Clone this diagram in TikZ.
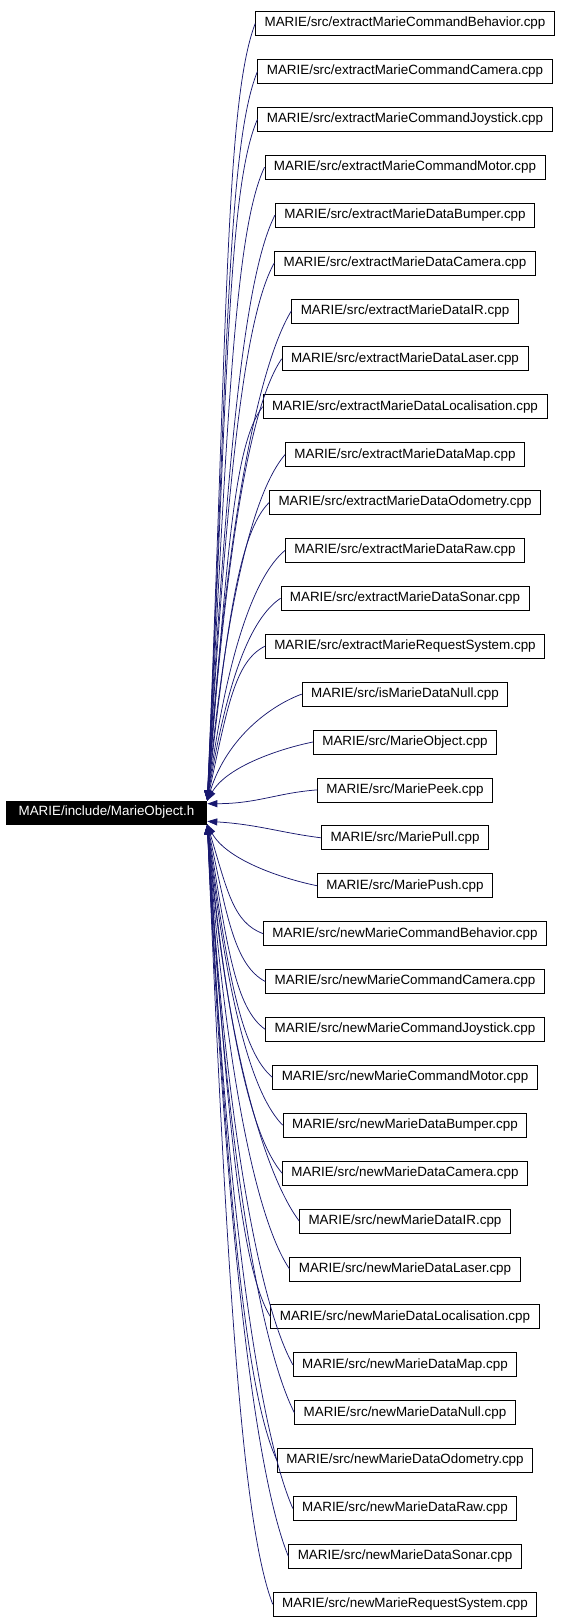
\documentclass[tikz,border=0pt]{standalone}
\usepackage{fontspec}
\setmainfont{Liberation Sans}
\usetikzlibrary{arrows.meta}

\definecolor{edgeblue}{HTML}{191970}

\begin{document}
\begin{tikzpicture}[x=1pt,y=1pt,
		file/.style={draw,line width=0.8pt,font=\fontsize{13.4}{15}\selectfont,minimum height=24pt,inner xsep=9pt,inner ysep=0pt},
		header/.style={file,fill=black,text=white,draw=black,minimum height=23pt,inner xsep=12.5pt},
		dep/.style={draw=edgeblue,line width=0.75pt,<-,>={Triangle[length=10pt,width=7pt]}}
		]
		\useasboundingbox (0,0) rectangle (564,-1623);
		
		% Header file
		\node[header] (main) at (106.5,-812.5) {MARIE/include/MarieObject.h};
		
		% extract* sources
		\node[file] (xCmdBehavior) at (405,-23.5) {MARIE/src/extractMarieCommandBehavior.cpp};
		\node[file] (xCmdCamera) at (405,-71.4) {MARIE/src/extractMarieCommandCamera.cpp};
		\node[file] (xCmdJoystick) at (405,-119.3) {MARIE/src/extractMarieCommandJoystick.cpp};
		\node[file] (xCmdMotor) at (405,-167.2) {MARIE/src/extractMarieCommandMotor.cpp};
		\node[file] (xBumper) at (405,-215.1) {MARIE/src/extractMarieDataBumper.cpp};
		\node[file] (xCamera) at (405,-263.0) {MARIE/src/extractMarieDataCamera.cpp};
		\node[file] (xIR) at (405,-310.9) {MARIE/src/extractMarieDataIR.cpp};
		\node[file] (xLaser) at (405,-358.8) {MARIE/src/extractMarieDataLaser.cpp};
		\node[file] (xLocal) at (405,-406.7) {MARIE/src/extractMarieDataLocalisation.cpp};
		\node[file] (xMap) at (405,-454.6) {MARIE/src/extractMarieDataMap.cpp};
		\node[file] (xOdometry) at (405,-502.5) {MARIE/src/extractMarieDataOdometry.cpp};
		\node[file] (xRaw) at (405,-550.4) {MARIE/src/extractMarieDataRaw.cpp};
		\node[file] (xSonar) at (405,-598.3) {MARIE/src/extractMarieDataSonar.cpp};
		\node[file] (xRequest) at (405,-646.2) {MARIE/src/extractMarieRequestSystem.cpp};
		
		% misc sources
		\node[file] (isNull) at (405,-694.1) {MARIE/src/isMarieDataNull.cpp};
		\node[file] (objCpp) at (405,-742.0) {MARIE/src/MarieObject.cpp};
		\node[file] (peek) at (405,-789.9) {MARIE/src/MariePeek.cpp};
		\node[file] (pull) at (405,-837.8) {MARIE/src/MariePull.cpp};
		\node[file] (push) at (405,-885.7) {MARIE/src/MariePush.cpp};
		
		% new* sources
		\node[file] (nCmdBehavior) at (405,-933.6) {MARIE/src/newMarieCommandBehavior.cpp};
		\node[file] (nCmdCamera) at (405,-981.5) {MARIE/src/newMarieCommandCamera.cpp};
		\node[file] (nCmdJoystick) at (405,-1029.4) {MARIE/src/newMarieCommandJoystick.cpp};
		\node[file] (nCmdMotor) at (405,-1077.3) {MARIE/src/newMarieCommandMotor.cpp};
		\node[file] (nBumper) at (405,-1125.2) {MARIE/src/newMarieDataBumper.cpp};
		\node[file] (nCamera) at (405,-1173.1) {MARIE/src/newMarieDataCamera.cpp};
		\node[file] (nIR) at (405,-1221.0) {MARIE/src/newMarieDataIR.cpp};
		\node[file] (nLaser) at (405,-1268.9) {MARIE/src/newMarieDataLaser.cpp};
		\node[file] (nLocal) at (405,-1316.8) {MARIE/src/newMarieDataLocalisation.cpp};
		\node[file] (nMap) at (405,-1364.7) {MARIE/src/newMarieDataMap.cpp};
		\node[file] (nNull) at (405,-1412.6) {MARIE/src/newMarieDataNull.cpp};
		\node[file] (nOdometry) at (405,-1460.5) {MARIE/src/newMarieDataOdometry.cpp};
		\node[file] (nRaw) at (405,-1508.4) {MARIE/src/newMarieDataRaw.cpp};
		\node[file] (nSonar) at (405,-1556.3) {MARIE/src/newMarieDataSonar.cpp};
		\node[file] (nRequest) at (405,-1604.2) {MARIE/src/newMarieRequestSystem.cpp};
		
		% Upper bundle
		\draw[dep] (main.north east) .. controls +(20,467) and +(-30,-78) .. (xCmdBehavior.west);
		\draw[dep] (main.north east) .. controls +(20,438) and +(-30,-73) .. (xCmdCamera.west);
		\draw[dep] (main.north east) .. controls +(20,409) and +(-30,-68) .. (xCmdJoystick.west);
		\draw[dep] (main.north east) .. controls +(20,380) and +(-30,-63) .. (xCmdMotor.west);
		\draw[dep] (main.north east) .. controls +(20,352) and +(-30,-59) .. (xBumper.west);
		\draw[dep] (main.north east) .. controls +(20,323) and +(-30,-54) .. (xCamera.west);
		\draw[dep] (main.north east) .. controls +(20,294) and +(-30,-49) .. (xIR.west);
		\draw[dep] (main.north east) .. controls +(20,265) and +(-30,-44) .. (xLaser.west);
		\draw[dep] (main.north east) .. controls +(20,237) and +(-30,-39) .. (xLocal.west);
		\draw[dep] (main.north east) .. controls +(20,208) and +(-30,-35) .. (xMap.west);
		\draw[dep] (main.north east) .. controls +(20,179) and +(-30,-30) .. (xOdometry.west);
		\draw[dep] (main.north east) .. controls +(20,150) and +(-30,-25) .. (xRaw.west);
		\draw[dep] (main.north east) .. controls +(20,122) and +(-30,-20) .. (xSonar.west);
		\draw[dep] (main.north east) .. controls +(20,93) and +(-30,-15) .. (xRequest.west);
		\draw[dep] (main.north east) .. controls +(20,64) and +(-30,-11) .. (isNull.west);
		\draw[dep] (main.north east) .. controls +(20,35) and +(-30,-6) .. (objCpp.west);
		
		% Middle
		\draw[dep] (main.5) .. controls +(50,0) and +(-40,-3) .. (peek.west);
		\draw[dep] (main.-5) .. controls +(50,-3) and +(-40,5) .. (pull.west);
		
		% Lower bundle
		\draw[dep] (main.south east) .. controls +(20,-37) and +(-30,6) .. (push.west);
		\draw[dep] (main.south east) .. controls +(20,-66) and +(-30,11) .. (nCmdBehavior.west);
		\draw[dep] (main.south east) .. controls +(20,-95) and +(-30,16) .. (nCmdCamera.west);
		\draw[dep] (main.south east) .. controls +(20,-123) and +(-30,21) .. (nCmdJoystick.west);
		\draw[dep] (main.south east) .. controls +(20,-152) and +(-30,25) .. (nCmdMotor.west);
		\draw[dep] (main.south east) .. controls +(20,-181) and +(-30,30) .. (nBumper.west);
		\draw[dep] (main.south east) .. controls +(20,-209) and +(-30,35) .. (nCamera.west);
		\draw[dep] (main.south east) .. controls +(20,-238) and +(-30,40) .. (nIR.west);
		\draw[dep] (main.south east) .. controls +(20,-267) and +(-30,44) .. (nLaser.west);
		\draw[dep] (main.south east) .. controls +(20,-296) and +(-30,49) .. (nLocal.west);
		\draw[dep] (main.south east) .. controls +(20,-324) and +(-30,54) .. (nMap.west);
		\draw[dep] (main.south east) .. controls +(20,-353) and +(-30,59) .. (nNull.west);
		\draw[dep] (main.south east) .. controls +(20,-382) and +(-30,64) .. (nOdometry.west);
		\draw[dep] (main.south east) .. controls +(20,-411) and +(-30,68) .. (nRaw.west);
		\draw[dep] (main.south east) .. controls +(20,-439) and +(-30,73) .. (nSonar.west);
		\draw[dep] (main.south east) .. controls +(20,-468) and +(-30,78) .. (nRequest.west);
		
	\end{tikzpicture}
\end{document}
